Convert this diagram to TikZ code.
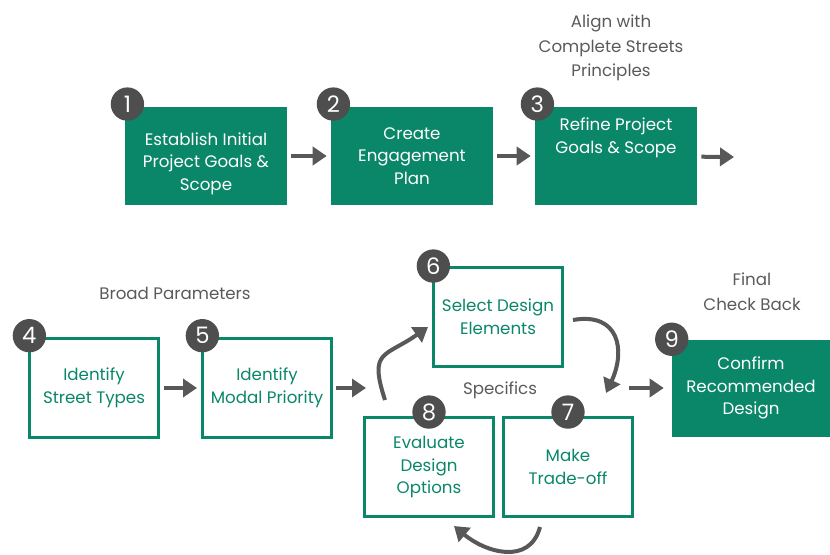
\documentclass[tikz,border=0pt]{standalone}
\usepackage{fontspec}
\setmainfont{Poppins}
\usetikzlibrary{arrows.meta}
\definecolor{stepgreen}{RGB}{10,135,105}
\definecolor{arrowgray}{RGB}{88,88,88}
\definecolor{badgegray}{RGB}{78,78,78}
\definecolor{labelgray}{RGB}{90,90,90}
\begin{document}
\begin{tikzpicture}[x=0.75pt, y=0.75pt,
        stepfont/.style={font=\fontsize{12.5}{17}\selectfont},
        filledbox/.style={rectangle, fill=stepgreen, text=white, align=center, inner sep=0pt, stepfont},
        openbox/.style={rectangle, draw=stepgreen, line width=2.2pt, fill=white, text=stepgreen, align=center, inner sep=0pt,
            minimum width=96.75pt, minimum height=74.25pt, stepfont},
        badge/.style={circle, fill=badgegray, text=white, minimum size=25pt, inner sep=0pt, font=\fontsize{17}{17}\selectfont},
        flow/.style={draw=arrowgray, line width=3pt, -{Triangle[length=10.5pt, width=13.5pt]}},
        heading/.style={text=labelgray, align=center, font=\fontsize{12.5}{18.5}\selectfont}]
        \useasboundingbox (0, 0) rectangle (830, 554);
        % \draw (0, 0) grid (830, 554);
        % top row
        \node [filledbox, minimum width=121.5pt, minimum height=73.5pt, name=st_1] at (206, 398) {\mbox{}\\[4pt]Establish Initial\\Project Goals \&\\Scope};
        \node [filledbox, minimum width=121.5pt, minimum height=73.5pt, name=st_2] at (412, 398) {Create\\Engagement\\Plan};
        \node [filledbox, minimum width=121.5pt, minimum height=73.5pt, name=st_3] at (616, 398) {Refine Project\\Goals \& Scope\\[14pt] \mbox{}};
        \node [heading, name=hd_align] at (611, 506) {Align with\\Complete Streets\\Principles};
        \coordinate (out_3) at (734, 397);
        % bottom row
        \node [openbox, name=st_4] at (94, 166) {Identify\\Street Types};
        \node [openbox, name=st_5] at (267, 166) {Identify\\Modal Priority};
        \node [openbox, name=st_6] at (498, 237) {Select Design\\Elements};
        \node [openbox, name=st_8] at (429, 87) {Evaluate\\Design\\Options};
        \node [openbox, name=st_7] at (568, 87) {Make\\Trade-off};
        \node [filledbox, minimum width=118.5pt, minimum height=72.75pt, name=st_9] at (751, 166) {Confirm\\Recommended\\Design};
        \node [heading, name=hd_broad] at (175, 261) {Broad Parameters};
        \node [heading, name=hd_spec] at (500, 164) {Specifics};
        \node [heading, name=hd_final] at (752, 262) {Final\\Check Back};
        % numbers
        \node [badge, name=num_1, xshift=2pt, yshift=2pt] at (st_1.north west) {1};
        \node [badge, name=num_2, xshift=2pt, yshift=2pt] at (st_2.north west) {2};
        \node [badge, name=num_3, xshift=2pt, yshift=2pt] at (st_3.north west) {3};
        \node [badge, name=num_4, xshift=1pt, yshift=1pt] at (st_4.north west) {4};
        \node [badge, name=num_5, xshift=1pt, yshift=1pt] at (st_5.north west) {5};
        \node [badge, name=num_6, xshift=1pt] at (st_6.north west) {6};
        \node [badge, name=num_7, yshift=3pt] at (st_7.north) {7};
        \node [badge, name=num_8, yshift=3pt] at (st_8.north) {8};
        \node [badge, name=num_9] at (st_9.north west) {9};
        % straight arrows
        \draw [flow, shorten <=3pt, shorten >=3pt] (st_1) -- (st_2);
        \draw [flow, shorten <=3pt, shorten >=3pt] (st_2) -- (st_3);
        \draw [flow, shorten <=3pt] (st_3) -- (out_3);
        \coordinate (out_5) at (366, 166);
        \draw [flow, shorten <=2pt] (st_5.east |- out_5) -- (out_5);
        \draw [flow, shorten <=3pt, shorten >=3pt] (st_4.east |- out_5) -- (st_5.west |- out_5);
        \coordinate (in_9) at (629, 166);
        \draw [flow, shorten >=6pt] (in_9) -- (st_9.west |- in_9);
        % loop
        \coordinate (loop_a) at (385, 154);
        \coordinate (loop_b) at (428, 227);
        \coordinate (loop_c) at (573, 234);
        \coordinate (loop_d) at (606, 161);
        \coordinate (loop_e) at (540, 27);
        \coordinate (loop_f) at (454, 28);
        \draw [flow] (loop_a) to [out=108, in=215, looseness=1.6] (loop_b);
        \draw [flow] (loop_c) to [out=10, in=65, looseness=1.5] (loop_d);
        \draw [flow] (loop_e) to [out=-105, in=-40, looseness=1.2] (loop_f);
    \end{tikzpicture}
\end{document}
